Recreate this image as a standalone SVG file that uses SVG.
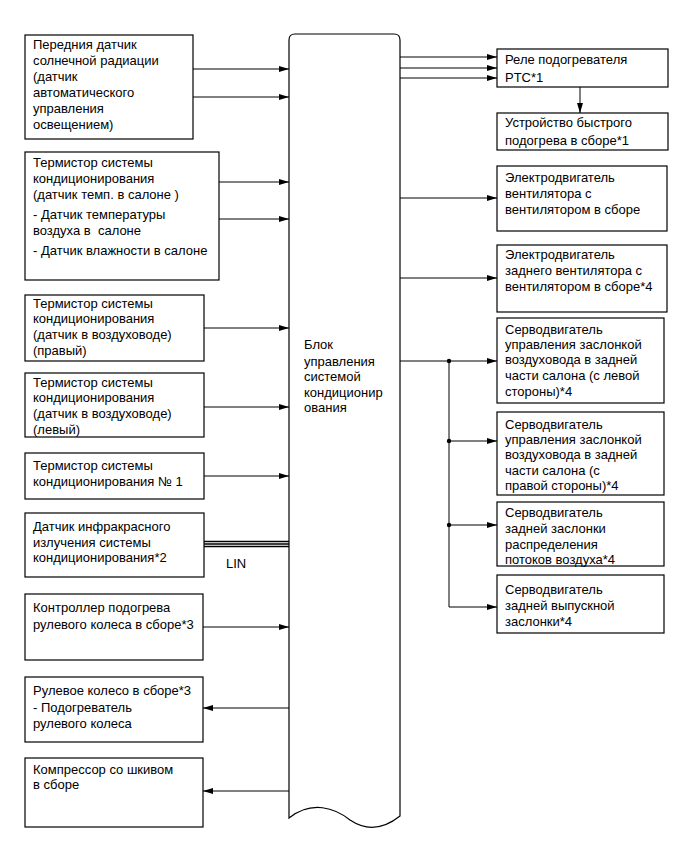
<svg xmlns="http://www.w3.org/2000/svg" width="687" height="857" viewBox="0 0 687 857">
<style>
.box{fill:#fff;stroke:#000;stroke-width:1.2}
.ln{fill:none;stroke:#000;stroke-width:1}
text{font-family:"Liberation Sans",Arial,sans-serif;font-size:13px;fill:#000}
</style>
<defs>
<marker id="ah" markerWidth="10" markerHeight="6" refX="10" refY="3" orient="auto" markerUnits="userSpaceOnUse">
<path d="M0,0 L10,3 L0,6 Z" fill="#000"/>
</marker>
</defs>
<rect width="687" height="857" fill="#fff"/>

<g id="ecu">
<path class="box" d="M289,818 L289,40 Q289,34 295,34 L394,34 Q400,34 400,40 L400,816 C385,828 368,832 350,820 C335,808 312,800 289,818 Z"/>
<text x="304" y="349">Блок</text>
<text x="304" y="366">управления</text>
<text x="304" y="381">системой</text>
<text x="304" y="397">кондиционир</text>
<text x="304" y="412">ования</text>
</g>

<g id="n1">
<rect class="box" x="25" y="35" width="168" height="104"/>
<text x="33" y="49">Передния датчик</text>
<text x="33" y="65">солнечной радиации</text>
<text x="33" y="81">(датчик</text>
<text x="33" y="97">автоматического</text>
<text x="33" y="113">управления</text>
<text x="33" y="129">освещением)</text>
</g>
<g id="n2">
<rect class="box" x="25" y="152" width="194" height="128"/>
<text x="33" y="167">Термистор системы</text>
<text x="33" y="183">кондиционирования</text>
<text x="33" y="199">(датчик темп. в салоне )</text>
<text x="33" y="219">- Датчик температуры</text>
<text x="33" y="235" xml:space="preserve">воздуха в  салоне</text>
<text x="33" y="255">- Датчик влажности в салоне</text>
</g>
<g id="n3">
<rect class="box" x="25" y="295" width="179" height="66"/>
<text x="33" y="308">Термистор системы</text>
<text x="33" y="323">кондиционирования</text>
<text x="33" y="339">(датчик в воздуховоде)</text>
<text x="33" y="355">(правый)</text>
</g>
<g id="n4">
<rect class="box" x="25" y="373" width="179" height="64"/>
<text x="33" y="387">Термистор системы</text>
<text x="33" y="402">кондиционирования</text>
<text x="33" y="418">(датчик в воздуховоде)</text>
<text x="33" y="434">(левый)</text>
</g>
<g id="n5">
<rect class="box" x="25" y="453" width="179" height="46"/>
<text x="33" y="470">Термистор системы</text>
<text x="33" y="486">кондиционирования № 1</text>
</g>
<g id="n6">
<rect class="box" x="25" y="513" width="179" height="64"/>
<text x="33" y="531">Датчик инфракрасного</text>
<text x="33" y="547">излучения системы</text>
<text x="33" y="562">кондиционирования*2</text>
</g>
<g id="n7">
<rect class="box" x="25" y="594" width="178" height="66"/>
<text x="33" y="612">Контроллер подогрева</text>
<text x="33" y="629">рулевого колеса в сборе*3</text>
</g>
<g id="n8">
<rect class="box" x="25" y="677" width="178" height="65"/>
<text x="33" y="695">Рулевое колесо в сборе*3</text>
<text x="33" y="712">- Подогреватель</text>
<text x="33" y="728">рулевого колеса</text>
</g>
<g id="n9">
<rect class="box" x="25" y="758" width="178" height="69"/>
<text x="33" y="774">Компрессор со шкивом</text>
<text x="33" y="789">в сборе</text>
</g>

<g id="r1">
<rect class="box" x="497" y="49" width="171" height="38"/>
<text x="505" y="64">Реле подогревателя</text>
<text x="505" y="82">PTC*1</text>
</g>
<g id="r2">
<rect class="box" x="497" y="113" width="171" height="37"/>
<text x="505" y="127">Устройство быстрого</text>
<text x="505" y="145">подогрева в сборе*1</text>
</g>
<g id="r3">
<rect class="box" x="497" y="166" width="170" height="65"/>
<text x="505" y="182">Электродвигатель</text>
<text x="505" y="198">вентилятора с</text>
<text x="505" y="214">вентилятором в сборе</text>
</g>
<g id="r4">
<rect class="box" x="497" y="245" width="170" height="67"/>
<text x="505" y="259">Электродвигатель</text>
<text x="505" y="275">заднего вентилятора с</text>
<text x="505" y="291">вентилятором в сборе*4</text>
</g>
<g id="r5">
<rect class="box" x="497" y="318" width="167" height="85"/>
<text x="505" y="334">Серводвигатель</text>
<text x="505" y="349">управления заслонкой</text>
<text x="505" y="364">воздуховода в задней</text>
<text x="505" y="380">части салона (с левой</text>
<text x="505" y="396">стороны)*4</text>
</g>
<g id="r6">
<rect class="box" x="497" y="412" width="167" height="83"/>
<text x="505" y="429">Серводвигатель</text>
<text x="505" y="444">управления заслонкой</text>
<text x="505" y="459">воздуховода в задней</text>
<text x="505" y="475">части салона (с</text>
<text x="505" y="490">правой стороны)*4</text>
</g>
<g id="r7">
<rect class="box" x="497" y="502" width="167" height="64"/>
<text x="505" y="517">Серводвигатель</text>
<text x="505" y="533">задней заслонки</text>
<text x="505" y="549">распределения</text>
<text x="505" y="564">потоков воздуха*4</text>
</g>
<g id="r8">
<rect class="box" x="497" y="575" width="167" height="58"/>
<text x="505" y="594">Серводвигатель</text>
<text x="505" y="610">задней выпускной</text>
<text x="505" y="626">заслонки*4</text>
</g>

<g id="connectors">
<line class="ln" x1="193" y1="69" x2="289" y2="69" marker-end="url(#ah)"/>
<line class="ln" x1="193" y1="97" x2="289" y2="97" marker-end="url(#ah)"/>
<line class="ln" x1="219" y1="182" x2="289" y2="182" marker-end="url(#ah)"/>
<line class="ln" x1="219" y1="219" x2="289" y2="219" marker-end="url(#ah)"/>
<line class="ln" x1="204" y1="328" x2="289" y2="328" marker-end="url(#ah)"/>
<line class="ln" x1="204" y1="407" x2="289" y2="407" marker-end="url(#ah)"/>
<line class="ln" x1="204" y1="476" x2="289" y2="476" marker-end="url(#ah)"/>
<line x1="204" y1="541.5" x2="289" y2="541.5" stroke="#000" stroke-width="1.3"/>
<line x1="204" y1="544" x2="289" y2="544" stroke="#000" stroke-width="1.3"/>
<line x1="204" y1="546.5" x2="289" y2="546.5" stroke="#000" stroke-width="1.3"/>
<text x="226" y="568">LIN</text>
<line class="ln" x1="203" y1="627" x2="289" y2="627" marker-end="url(#ah)"/>
<line class="ln" x1="289" y1="708" x2="203" y2="708" marker-end="url(#ah)"/>
<line class="ln" x1="289" y1="791" x2="203" y2="791" marker-end="url(#ah)"/>

<line class="ln" x1="400" y1="57" x2="497" y2="57" marker-end="url(#ah)"/>
<line class="ln" x1="400" y1="68" x2="497" y2="68" marker-end="url(#ah)"/>
<line class="ln" x1="400" y1="78" x2="497" y2="78" marker-end="url(#ah)"/>
<line class="ln" x1="580" y1="87" x2="580" y2="113" marker-end="url(#ah)"/>
<line class="ln" x1="400" y1="198" x2="497" y2="198" marker-end="url(#ah)"/>
<line class="ln" x1="400" y1="278" x2="497" y2="278" marker-end="url(#ah)"/>
<line class="ln" x1="400" y1="361" x2="497" y2="361" marker-end="url(#ah)"/>
<path class="ln" d="M449,361 L449,607 L497,607" marker-end="url(#ah)"/>
<line class="ln" x1="449" y1="441" x2="497" y2="441" marker-end="url(#ah)"/>
<line class="ln" x1="449" y1="525" x2="497" y2="525" marker-end="url(#ah)"/>
<circle cx="449" cy="361" r="2.2" fill="#000"/>
<circle cx="449" cy="441" r="2.2" fill="#000"/>
<circle cx="449" cy="525" r="2.2" fill="#000"/>
</g>
</svg>
